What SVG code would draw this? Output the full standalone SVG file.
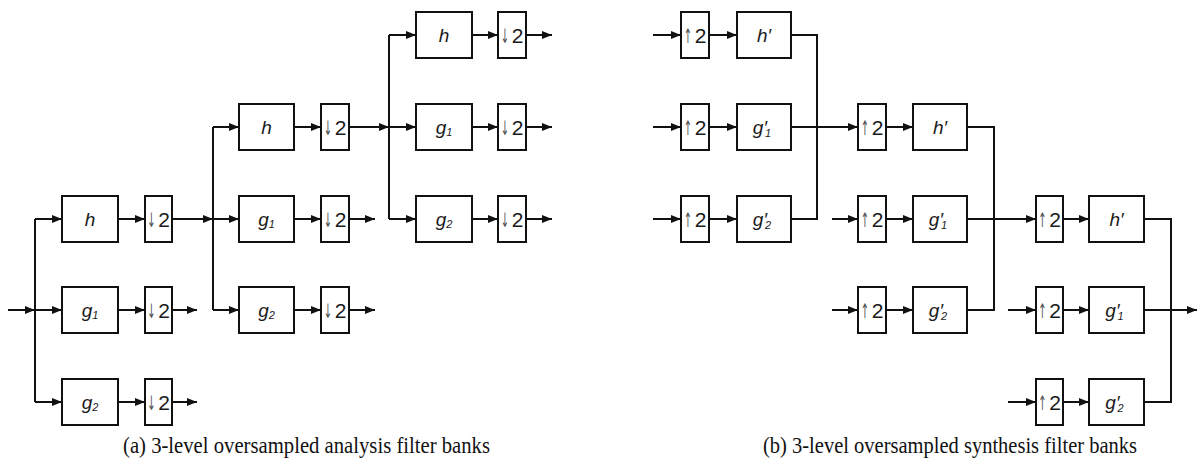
<svg xmlns="http://www.w3.org/2000/svg" width="1199" height="471" viewBox="0 0 1199 471">
<style>
.box{fill:#fff;stroke:#111;stroke-width:2}
.ln{fill:none;stroke:#111;stroke-width:2}
.lb{font-family:"Liberation Sans",Arial,sans-serif;font-style:italic;font-size:19px;fill:#1a1a1a;text-anchor:middle}
.sb{font-size:11px}
.two{font-family:"Liberation Sans",Arial,sans-serif;font-size:21px;fill:#1a1a1a;text-anchor:middle}
.ar{font-family:"DejaVu Sans",sans-serif;font-size:20px;fill:#555;text-anchor:middle}
.cap{font-family:"Liberation Serif","Times New Roman",serif;font-size:23px;fill:#111}
</style>
<defs>
<marker id="ah" markerUnits="userSpaceOnUse" markerWidth="11" markerHeight="10" refX="10" refY="5" orient="auto" viewBox="0 0 11 10">
<path d="M0,1 L10,5 L0,9 Z" fill="#111"/>
</marker>
</defs>

<g id="connectors">
<!-- analysis -->
<path class="ln" d="M8,310 H35" marker-end="url(#ah)"/>
<path class="ln" d="M35,219 V402"/>
<path class="ln" d="M35,219 H62" marker-end="url(#ah)"/>
<path class="ln" d="M35,310 H62" marker-end="url(#ah)"/>
<path class="ln" d="M35,402 H62" marker-end="url(#ah)"/>
<path class="ln" d="M118,219 H145" marker-end="url(#ah)"/>
<path class="ln" d="M118,310 H145" marker-end="url(#ah)"/>
<path class="ln" d="M118,402 H145" marker-end="url(#ah)"/>
<path class="ln" d="M172,219 H213" marker-end="url(#ah)"/>
<path class="ln" d="M172,310 H197" marker-end="url(#ah)"/>
<path class="ln" d="M172,402 H197" marker-end="url(#ah)"/>
<path class="ln" d="M213,127 V310"/>
<path class="ln" d="M213,127 H239" marker-end="url(#ah)"/>
<path class="ln" d="M213,219 H239" marker-end="url(#ah)"/>
<path class="ln" d="M213,310 H239" marker-end="url(#ah)"/>
<path class="ln" d="M294,127 H321" marker-end="url(#ah)"/>
<path class="ln" d="M294,219 H321" marker-end="url(#ah)"/>
<path class="ln" d="M294,310 H321" marker-end="url(#ah)"/>
<path class="ln" d="M349,127 H389" marker-end="url(#ah)"/>
<path class="ln" d="M349,219 H375" marker-end="url(#ah)"/>
<path class="ln" d="M349,310 H375" marker-end="url(#ah)"/>
<path class="ln" d="M389,35 V219"/>
<path class="ln" d="M389,35 H416" marker-end="url(#ah)"/>
<path class="ln" d="M389,127 H416" marker-end="url(#ah)"/>
<path class="ln" d="M389,219 H416" marker-end="url(#ah)"/>
<path class="ln" d="M472,35 H498" marker-end="url(#ah)"/>
<path class="ln" d="M472,127 H498" marker-end="url(#ah)"/>
<path class="ln" d="M472,219 H498" marker-end="url(#ah)"/>
<path class="ln" d="M526,35 H552" marker-end="url(#ah)"/>
<path class="ln" d="M526,127 H552" marker-end="url(#ah)"/>
<path class="ln" d="M526,219 H552" marker-end="url(#ah)"/>
<!-- synthesis -->
<path class="ln" d="M653,35 H681" marker-end="url(#ah)"/>
<path class="ln" d="M653,127 H681" marker-end="url(#ah)"/>
<path class="ln" d="M653,219 H681" marker-end="url(#ah)"/>
<path class="ln" d="M709,35 H737" marker-end="url(#ah)"/>
<path class="ln" d="M709,127 H737" marker-end="url(#ah)"/>
<path class="ln" d="M709,219 H737" marker-end="url(#ah)"/>
<path class="ln" d="M791,35 H817 V219 H791"/>
<path class="ln" d="M791,127 H858" marker-end="url(#ah)"/>
<path class="ln" d="M832,219 H858" marker-end="url(#ah)"/>
<path class="ln" d="M832,310 H858" marker-end="url(#ah)"/>
<path class="ln" d="M886,127 H913" marker-end="url(#ah)"/>
<path class="ln" d="M886,219 H913" marker-end="url(#ah)"/>
<path class="ln" d="M886,310 H913" marker-end="url(#ah)"/>
<path class="ln" d="M967,127 H994 V310 H967"/>
<path class="ln" d="M967,219 H1036" marker-end="url(#ah)"/>
<path class="ln" d="M1008,310 H1036" marker-end="url(#ah)"/>
<path class="ln" d="M1008,402 H1036" marker-end="url(#ah)"/>
<path class="ln" d="M1063,219 H1089" marker-end="url(#ah)"/>
<path class="ln" d="M1063,310 H1089" marker-end="url(#ah)"/>
<path class="ln" d="M1063,402 H1089" marker-end="url(#ah)"/>
<path class="ln" d="M1144,219 H1171 V402 H1144"/>
<path class="ln" d="M1144,310 H1197" marker-end="url(#ah)"/>
</g>

<!-- analysis level 1 -->
<g id="a1-h"><rect class="box" x="62" y="196" width="56" height="46"/><text class="lb" x="90" y="226">h</text></g>
<g id="a1-g1"><rect class="box" x="62" y="287" width="56" height="46"/><text class="lb" x="90" y="317">g<tspan class="sb" dy="2">1</tspan></text></g>
<g id="a1-g2"><rect class="box" x="62" y="379" width="56" height="46"/><text class="lb" x="90" y="409">g<tspan class="sb" dy="2">2</tspan></text></g>
<g id="a1-d1"><rect class="box" x="145" y="196" width="27" height="46"/><text class="ar" transform="translate(151.5,227) scale(0.5,1)">↓</text><text class="two" x="164" y="227">2</text></g>
<g id="a1-d2"><rect class="box" x="145" y="287" width="27" height="46"/><text class="ar" transform="translate(151.5,318) scale(0.5,1)">↓</text><text class="two" x="164" y="318">2</text></g>
<g id="a1-d3"><rect class="box" x="145" y="379" width="27" height="46"/><text class="ar" transform="translate(151.5,410) scale(0.5,1)">↓</text><text class="two" x="164" y="410">2</text></g>
<!-- analysis level 2 -->
<g id="a2-h"><rect class="box" x="239" y="104" width="55" height="46"/><text class="lb" x="266.5" y="134">h</text></g>
<g id="a2-g1"><rect class="box" x="239" y="196" width="55" height="46"/><text class="lb" x="266.5" y="226">g<tspan class="sb" dy="2">1</tspan></text></g>
<g id="a2-g2"><rect class="box" x="239" y="287" width="55" height="46"/><text class="lb" x="266.5" y="317">g<tspan class="sb" dy="2">2</tspan></text></g>
<g id="a2-d1"><rect class="box" x="321" y="104" width="28" height="46"/><text class="ar" transform="translate(328,135) scale(0.5,1)">↓</text><text class="two" x="340.5" y="135">2</text></g>
<g id="a2-d2"><rect class="box" x="321" y="196" width="28" height="46"/><text class="ar" transform="translate(328,227) scale(0.5,1)">↓</text><text class="two" x="340.5" y="227">2</text></g>
<g id="a2-d3"><rect class="box" x="321" y="287" width="28" height="46"/><text class="ar" transform="translate(328,318) scale(0.5,1)">↓</text><text class="two" x="340.5" y="318">2</text></g>
<!-- analysis level 3 -->
<g id="a3-h"><rect class="box" x="416" y="12" width="56" height="46"/><text class="lb" x="444" y="42">h</text></g>
<g id="a3-g1"><rect class="box" x="416" y="104" width="56" height="46"/><text class="lb" x="444" y="134">g<tspan class="sb" dy="2">1</tspan></text></g>
<g id="a3-g2"><rect class="box" x="416" y="196" width="56" height="46"/><text class="lb" x="444" y="226">g<tspan class="sb" dy="2">2</tspan></text></g>
<g id="a3-d1"><rect class="box" x="498" y="12" width="28" height="46"/><text class="ar" transform="translate(505,43) scale(0.5,1)">↓</text><text class="two" x="517.5" y="43">2</text></g>
<g id="a3-d2"><rect class="box" x="498" y="104" width="28" height="46"/><text class="ar" transform="translate(505,135) scale(0.5,1)">↓</text><text class="two" x="517.5" y="135">2</text></g>
<g id="a3-d3"><rect class="box" x="498" y="196" width="28" height="46"/><text class="ar" transform="translate(505,227) scale(0.5,1)">↓</text><text class="two" x="517.5" y="227">2</text></g>

<!-- synthesis level 1 -->
<g id="s1-u1"><rect class="box" x="681" y="12" width="28" height="46"/><text class="ar" transform="translate(688,43) scale(0.5,1)">↑</text><text class="two" x="700.5" y="43">2</text></g>
<g id="s1-u2"><rect class="box" x="681" y="104" width="28" height="46"/><text class="ar" transform="translate(688,135) scale(0.5,1)">↑</text><text class="two" x="700.5" y="135">2</text></g>
<g id="s1-u3"><rect class="box" x="681" y="196" width="28" height="46"/><text class="ar" transform="translate(688,227) scale(0.5,1)">↑</text><text class="two" x="700.5" y="227">2</text></g>
<g id="s1-h"><rect class="box" x="737" y="12" width="54" height="46"/><text class="lb" x="764" y="42">h′</text></g>
<g id="s1-g1"><rect class="box" x="737" y="104" width="54" height="46"/><text class="lb" x="762" y="134">g′<tspan class="sb" dx="-2" dy="3">1</tspan></text></g>
<g id="s1-g2"><rect class="box" x="737" y="196" width="54" height="46"/><text class="lb" x="762" y="226">g′<tspan class="sb" dx="-2" dy="3">2</tspan></text></g>
<!-- synthesis level 2 -->
<g id="s2-u1"><rect class="box" x="858" y="104" width="28" height="46"/><text class="ar" transform="translate(865,135) scale(0.5,1)">↑</text><text class="two" x="877.5" y="135">2</text></g>
<g id="s2-u2"><rect class="box" x="858" y="196" width="28" height="46"/><text class="ar" transform="translate(865,227) scale(0.5,1)">↑</text><text class="two" x="877.5" y="227">2</text></g>
<g id="s2-u3"><rect class="box" x="858" y="287" width="28" height="46"/><text class="ar" transform="translate(865,318) scale(0.5,1)">↑</text><text class="two" x="877.5" y="318">2</text></g>
<g id="s2-h"><rect class="box" x="913" y="104" width="54" height="46"/><text class="lb" x="940" y="134">h′</text></g>
<g id="s2-g1"><rect class="box" x="913" y="196" width="54" height="46"/><text class="lb" x="938" y="226">g′<tspan class="sb" dx="-2" dy="3">1</tspan></text></g>
<g id="s2-g2"><rect class="box" x="913" y="287" width="54" height="46"/><text class="lb" x="938" y="317">g′<tspan class="sb" dx="-2" dy="3">2</tspan></text></g>
<!-- synthesis level 3 -->
<g id="s3-u1"><rect class="box" x="1036" y="196" width="27" height="46"/><text class="ar" transform="translate(1042.5,227) scale(0.5,1)">↑</text><text class="two" x="1055" y="227">2</text></g>
<g id="s3-u2"><rect class="box" x="1036" y="287" width="27" height="46"/><text class="ar" transform="translate(1042.5,318) scale(0.5,1)">↑</text><text class="two" x="1055" y="318">2</text></g>
<g id="s3-u3"><rect class="box" x="1036" y="379" width="27" height="46"/><text class="ar" transform="translate(1042.5,410) scale(0.5,1)">↑</text><text class="two" x="1055" y="410">2</text></g>
<g id="s3-h"><rect class="box" x="1089" y="196" width="55" height="46"/><text class="lb" x="1116.5" y="226">h′</text></g>
<g id="s3-g1"><rect class="box" x="1089" y="287" width="55" height="46"/><text class="lb" x="1114.5" y="317">g′<tspan class="sb" dx="-2" dy="3">1</tspan></text></g>
<g id="s3-g2"><rect class="box" x="1089" y="379" width="55" height="46"/><text class="lb" x="1114.5" y="409">g′<tspan class="sb" dx="-2" dy="3">2</tspan></text></g>

<g id="captions">
<text class="cap" x="123" y="453" textLength="367" lengthAdjust="spacingAndGlyphs">(a) 3-level oversampled analysis filter banks</text>
<text class="cap" x="763" y="453" textLength="374" lengthAdjust="spacingAndGlyphs">(b) 3-level oversampled synthesis filter banks</text>
</g>
</svg>
